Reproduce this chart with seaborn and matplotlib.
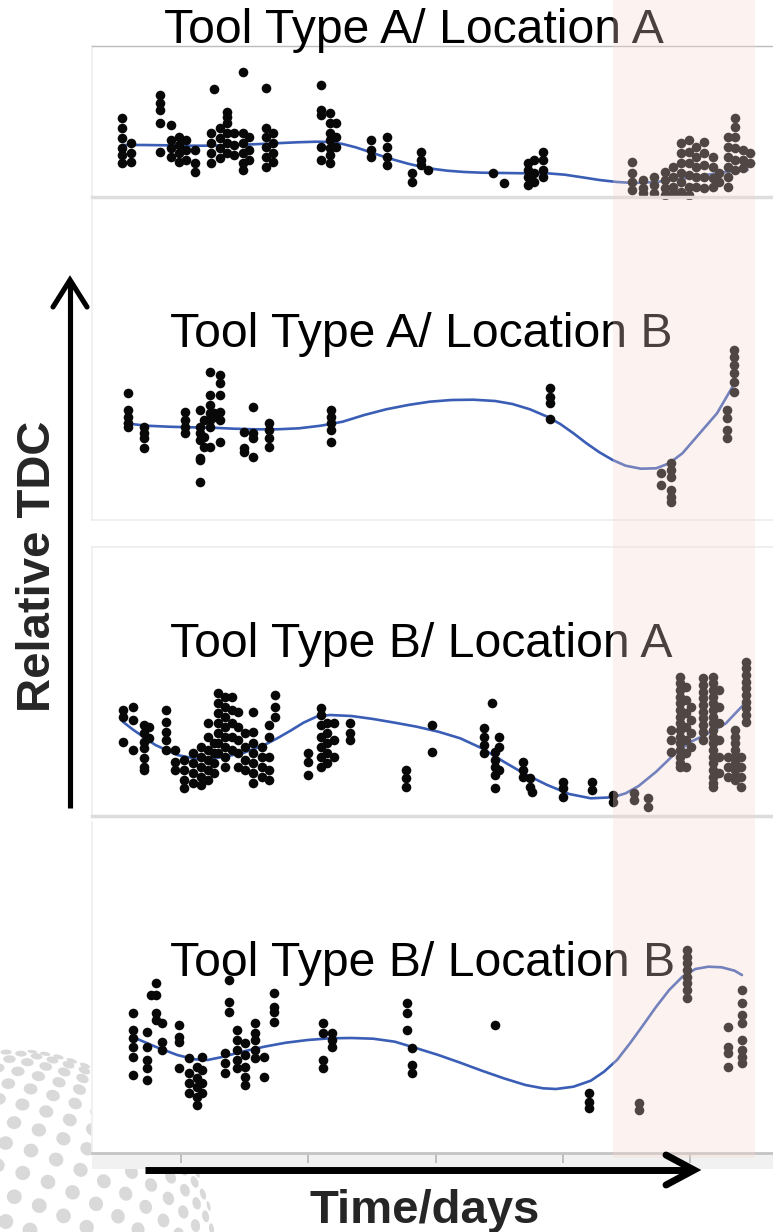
import numpy as np
import pandas as pd
import matplotlib
matplotlib.use("Agg")
import matplotlib.pyplot as plt
from matplotlib.lines import Line2D
from matplotlib.patches import Rectangle
from matplotlib.collections import EllipseCollection
import seaborn as sns

# ---------------- data (x = days, y = relative TDC, arbitrary units) ----------------
panel_titles = ["Tool Type A/ Location A", "Tool Type A/ Location B",
                "Tool Type B/ Location A", "Tool Type B/ Location B"]
x_ticks = [50, 100, 150, 200, 250]
window_days = (219.7, 275.5)

p1_points = [
    (26.6, [78.7, 68.7, 58.7, 48.7, 42.0, 33.7]), (30.5, [53.7, 43.7, 35.3]),
    (41.6, [102.0, 93.7, 87.0, 73.7, 45.3]), (45.9, [72.0, 57.0, 48.7, 40.3]),
    (49.3, [60.3, 52.0, 43.7, 35.3]), (51.9, [57.0, 47.0, 37.0]),
    (55.3, [47.0, 33.7, 25.3]), (63.0, [107.7]), (61.8, [63.7, 53.7, 43.7, 33.7]),
    (65.2, [68.7, 58.7, 48.7, 38.7]), (68.1, [85.3, 80.3, 73.7, 63.7, 53.7, 43.7]),
    (70.7, [63.7, 52.0, 42.0]), (74.5, [125.3, 63.7, 53.7, 43.7, 33.7, 27.0]),
    (76.7, [60.3, 47.0, 37.0]), (83.5, [108.7, 68.7, 60.3, 50.3, 40.3, 30.3]),
    (86.1, [63.7, 53.7, 43.7, 35.3]), (104.9, [112.0, 87.0, 82.0, 50.3, 37.0]),
    (108.4, [83.7, 73.7, 63.7, 57.0, 48.7, 42.0, 33.7]), (110.9, [73.7, 60.3, 50.3]),
    (124.6, [57.0, 47.0, 40.3]), (131.1, [59.7, 50.3, 40.3, 32.0]),
    (140.9, [23.7, 15.3]), (144.3, [45.3, 37.0, 32.0]), (146.9, [27.0]),
    (172.5, [23.7]), (176.8, [13.7]), (186.2, [33.7, 27.0, 20.3, 12.0]),
    (188.8, [37.0, 23.7, 15.3]), (192.2, [45.3, 37.0, 27.0, 20.3]),
    (227.3, [35.3, 23.7, 15.3, 7.0]), (231.6, [17.0, 8.7, 3.7]),
    (235.8, [20.3, 12.0, 3.7]), (240.1, [25.3, 17.0, 8.7, 2.0]),
    (243.5, [30.3, 20.3, 10.3, 3.7]), (246.6, [53.7, 43.7, 33.7, 23.7, 15.0, 5.3]),
    (249.5, [57.0, 45.3, 33.7, 22.0, 10.3, 2.0]), (252.4, [50.3, 40.3, 30.3, 20.3, 10.3]),
    (255.5, [55.3, 43.7, 32.0, 20.3, 8.7]), (258.9, [40.3, 30.3, 18.7, 10.3]),
    (261.5, [23.7, 15.0]), (264.9, [60.3, 50.3, 40.3, 30.3, 20.3, 10.3]),
    (267.5, [78.7, 70.3, 60.3, 48.7, 37.0, 27.0]), (270.9, [47.0, 37.0, 28.7]),
    (273.5, [43.7, 33.7]),
]
p1_fit_days = [27.1, 35.6, 44.2, 52.7, 61.3, 69.9, 78.4, 87.0, 95.5, 103.2,
               108.4, 113.5, 118.6, 123.8, 128.9, 134.0, 139.2, 144.3, 149.4, 154.6,
               161.4, 168.2, 176.8, 185.3, 193.9, 200.8, 207.6, 214.4, 221.3, 228.1,
               236.7, 245.2, 253.8, 262.4, 272.6]
p1_fit_tdc = [52.0, 52.0, 51.7, 51.3, 51.3, 51.7, 52.7, 53.7, 54.7, 55.3,
              55.0, 53.0, 49.7, 45.3, 41.0, 37.0, 33.3, 30.3, 28.0, 26.3,
              25.0, 24.3, 24.0, 23.7, 23.7, 22.3, 19.7, 17.0, 15.0, 14.0,
              15.0, 17.7, 21.0, 24.5, 27.0]

p2_points = [
    (29.3, [126.7, 110.0, 103.3, 96.7, 93.3]), (35.3, [93.3, 86.7, 81.7, 71.7]),
    (51.5, [108.3, 100.0, 93.3, 86.7]), (57.4, [110.0, 93.3, 86.7, 80.0, 61.7, 60.0, 38.3]),
    (59.1, [100.0, 83.3, 73.3]), (61.3, [148.3, 125.0, 115.0, 106.7, 100.0, 93.3, 73.3]),
    (65.2, [145.0, 136.7, 125.0, 108.3, 100.0, 78.3]), (63.0, [106.7, 103.3]),
    (74.6, [88.3, 71.7, 68.3]), (78.4, [113.3, 86.7, 81.7, 63.3]),
    (84.7, [96.7, 90.0, 81.7, 73.3]), (108.9, [110.0, 103.3, 96.7, 90.0, 78.3]),
    (194.8, [131.7, 123.3, 116.7, 100.7]), (238.7, [46.7, 35.0]),
    (242.7, [56.7, 50.0, 43.3, 30.0, 23.3, 18.3]), (264.4, [110.0, 101.7, 90.0, 81.7]),
    (267.1, [170.0, 163.3, 155.0, 146.7, 138.3, 128.3]),
]
p2_fit_days = [27.9, 36.5, 45.0, 53.6, 62.2, 70.7, 79.3, 87.8, 96.4, 104.9,
               113.5, 122.0, 130.6, 139.2, 147.7, 156.3, 164.8, 173.4, 180.2, 187.1,
               193.9, 199.0, 204.2, 209.3, 214.4, 219.6, 224.7, 230.7, 236.7, 241.8,
               247.0, 253.8, 260.6, 267.1]
p2_fit_tdc = [96.7, 94.3, 93.3, 92.7, 92.3, 91.3, 90.7, 90.7, 91.7, 94.3,
              98.3, 105.0, 110.7, 115.0, 118.3, 120.0, 120.3, 119.0, 116.0, 110.7,
              103.3, 96.0, 86.7, 76.7, 67.7, 60.0, 54.3, 51.3, 51.7, 56.7,
              66.7, 86.7, 106.7, 135.0]

p3_points = [
    (27.1, [106.0, 99.3, 74.3]), (31.3, [109.3, 96.0, 66.0]),
    (35.6, [91.0, 82.7, 74.3, 67.7, 57.7, 49.3, 46.0]), (37.3, [89.3, 77.7]),
    (44.2, [106.0, 94.3, 84.3, 76.0, 66.0]), (47.6, [66.0, 54.3, 46.0]),
    (51.0, [56.0, 46.0, 36.0, 27.7]), (54.5, [62.7, 52.7, 42.7, 32.7]),
    (57.9, [69.3, 59.3, 49.3, 39.3, 31.0]), (60.4, [92.7, 79.3, 66.0, 56.0, 46.0, 36.0]),
    (63.0, [72.7, 62.7, 52.7, 42.7]), (64.7, [122.7, 112.7, 102.7, 92.7, 82.7, 72.7, 62.7]),
    (67.3, [119.3, 109.3, 99.3, 89.3, 79.3, 69.3, 59.3, 49.3]),
    (69.9, [119.3, 106.0, 92.7, 79.3, 66.0]), (72.4, [104.3, 89.3, 76.0, 62.7, 49.3]),
    (75.0, [82.7, 69.3, 56.0, 46.0]), (78.4, [104.3, 84.3, 72.7, 62.7, 52.7, 42.7, 32.7]),
    (81.8, [69.3, 59.3, 49.3, 39.3]), (84.4, [91.0, 79.3, 59.3, 46.0, 36.0]),
    (87.0, [121.0, 109.3, 99.3]), (99.8, [62.7, 54.3, 41.0]),
    (104.9, [107.7, 101.0, 91.0, 79.3, 69.3, 59.3, 49.3]),
    (107.5, [92.7, 82.7, 72.7, 62.7, 52.7]), (110.1, [92.7, 76.0, 59.3]),
    (116.4, [92.7, 82.7, 76.0]), (138.3, [46.0, 37.7, 29.3]), (148.6, [91.0, 64.3]),
    (172.0, [112.7]), (169.1, [87.7, 79.3, 71.0, 62.7]),
    (173.4, [64.3, 56.0, 49.3, 41.0, 27.7]), (175.1, [79.3, 69.3, 46.0]),
    (184.5, [54.3, 46.0, 39.3]), (187.1, [37.7, 29.3]), (187.9, [24.3]),
    (199.9, [34.3, 27.7, 19.3]), (211.4, [34.3, 26.0]), (219.6, [21.0, 14.3]),
    (228.1, [22.7, 16.0]), (233.3, [17.7, 9.3]), (242.7, [86.0, 76.0, 64.3]),
    (246.1, [139.3, 132.7, 126.0, 119.3, 112.7, 106.0, 99.3, 92.7, 86.0, 79.3, 72.7,
             66.0, 59.3, 52.7, 49.3]),
    (248.3, [129.3, 116.0, 102.7, 89.3, 76.0, 62.7, 49.3]),
    (250.4, [109.3, 96.0, 82.7, 69.3]),
    (255.2, [137.7, 131.0, 124.3, 117.7, 111.0, 104.3, 97.7, 91.0, 84.3, 76.0]),
    (258.9, [139.3, 132.7, 126.0, 119.3, 112.7, 106.0, 99.3, 92.7, 86.0, 79.3, 72.7,
             66.0, 59.3, 52.7, 46.0, 39.3, 32.7, 29.3]),
    (261.5, [126.0, 109.3, 92.7, 76.0, 59.3, 42.7]), (264.9, [59.3, 49.3, 39.3]),
    (267.8, [86.0, 79.3, 72.7, 66.0, 59.3, 52.7, 46.0, 39.3, 36.0]),
    (270.0, [59.3, 49.3, 39.3, 29.3]),
    (271.8, [154.3, 147.7, 141.0, 134.3, 127.7, 121.0, 114.3, 107.7, 101.0, 94.3]),
]
p3_fit_days = [27.1, 31.3, 39.9, 48.5, 57.0, 65.6, 74.1, 82.7, 87.8, 93.0,
               98.1, 103.2, 108.4, 116.9, 125.5, 134.0, 142.6, 151.1, 159.7, 168.2,
               176.8, 185.3, 193.9, 202.5, 211.0, 219.6, 224.7, 229.8, 236.7, 243.5,
               250.4, 257.2, 264.1, 270.9]
p3_fit_tdc = [94.3, 86.0, 71.0, 61.0, 56.7, 58.7, 62.7, 71.0, 77.7, 85.3,
              93.3, 99.3, 101.0, 100.0, 97.0, 93.3, 89.3, 84.3, 77.7, 67.7,
              54.3, 41.7, 31.0, 22.0, 17.7, 18.7, 22.7, 30.0, 44.3, 61.0,
              74.3, 82.7, 92.7, 111.0]

p4_points = [
    (31.3, [139.7, 123.0, 114.7, 106.3, 96.3, 78.0]), (36.5, [121.3, 106.3, 93.0, 84.7, 73.0]),
    (38.2, [158.0]), (40.2, [169.7, 158.0, 139.7, 133.0]), (42.5, [129.7, 111.3, 103.0]),
    (49.3, [128.0, 116.3, 111.3, 84.7]), (53.3, [94.7, 79.7, 69.7, 59.7]),
    (56.2, [86.3, 74.7, 66.3, 56.3, 48.0]), (58.4, [96.3, 83.0, 69.7, 59.7]),
    (67.3, [99.7, 89.7, 79.7]), (69.0, [173.0, 151.3, 141.3]),
    (72.1, [123.0, 113.0, 103.0, 93.0, 84.7]), (75.0, [109.7, 98.0, 86.3, 76.0, 67.7]),
    (78.9, [129.7, 119.7, 113.0, 103.0, 94.7]), (82.7, [96.3, 76.0]),
    (86.5, [159.7, 146.3, 141.3, 131.3]), (105.8, [129.7, 119.7, 93.0, 84.7]),
    (109.2, [119.7, 113.0, 106.3]), (138.8, [149.7, 139.7, 123.0]),
    (140.9, [104.7, 88.0, 79.7]), (173.4, [128.0]), (210.2, [59.7, 51.3, 44.7]),
    (229.8, [49.7, 43.0]),
    (249.0, [203.0, 196.3, 189.7, 183.0, 176.3, 169.7, 163.0, 154.7]),
    (264.9, [126.3, 106.3, 99.7, 86.3]),
    (270.4, [163.0, 149.7, 138.0, 129.7, 113.0, 103.0, 96.3, 89.7]),
]
p4_fit_days = [32.2, 39.9, 48.5, 55.3, 60.4, 65.6, 74.1, 82.7, 91.2, 99.8,
               108.4, 116.9, 125.5, 134.0, 142.6, 151.1, 159.7, 168.2, 176.8, 185.3,
               192.2, 197.3, 204.2, 211.0, 216.2, 221.3, 226.4, 231.6, 236.7, 241.8,
               247.0, 252.1, 257.2, 262.4, 267.5, 270.4]
p4_fit_tdc = [114.7, 106.3, 98.0, 93.7, 93.0, 95.7, 101.3, 106.3, 110.3, 113.0,
              114.7, 115.0, 114.3, 111.3, 104.7, 98.0, 90.3, 82.3, 74.7, 68.0,
              64.7, 64.0, 66.3, 72.3, 81.3, 93.0, 109.7, 128.0, 146.3, 163.0,
              176.3, 184.0, 186.3, 185.7, 182.3, 178.0]

panel_points = [p1_points, p2_points, p3_points, p4_points]
panel_fits = [(p1_fit_days, p1_fit_tdc), (p2_fit_days, p2_fit_tdc),
              (p3_fit_days, p3_fit_tdc), (p4_fit_days, p4_fit_tdc)]

# ---------------- style / layout ----------------
sns.set_theme(style="white")
plt.rcParams['font.family'] = ['Liberation Sans', 'DejaVu Sans']

W, H = 773, 1232
fig = plt.figure(figsize=(W / 100, H / 100), dpi=100)
fig.patch.set_facecolor("white")

XLIM = (15.0, 282.6)
bounds = [(46, 197), (200, 520), (547, 816), (822, 1153)]  # panel pixel (top, bottom)
LEFT = 92

# background decoration: halftone globe in the lower-left corner
bg = fig.add_axes([0, 0, 1, 1], zorder=-5)
bg.set_xlim(0, W); bg.set_ylim(H, 0); bg.axis("off")
lat = np.radians(np.arange(-84, 90, 7.5))
lon = np.radians(np.arange(-180, 180, 7.5) + 3)
LA, LO = np.meshgrid(lat, lon)
Xs = np.cos(LA) * np.sin(LO)
Ys = np.sin(LA)
Zs = np.cos(LA) * np.cos(LO)
tilt = np.radians(-25)
Y2 = Ys * np.cos(tilt) - Zs * np.sin(tilt)
Z2 = Ys * np.sin(tilt) + Zs * np.cos(tilt)
rot = np.radians(-20)
X3 = Xs * np.cos(rot) - Y2 * np.sin(rot)
Y3 = Xs * np.sin(rot) + Y2 * np.cos(rot)
vis = Z2 > 0.05
gcx, gcy, gR = 10, 1255, 205
gx = gcx + gR * X3[vis]
gy = gcy - gR * Y3[vis]
gz = Z2[vis]
phi = np.degrees(np.arctan2(gy - gcy, gx - gcx))
dot = 15.0
ec = EllipseCollection(widths=dot * gz ** 0.15, heights=dot * gz ** 0.55,
                       angles=phi + 90, units="xy", offsets=np.column_stack([gx, gy]),
                       offset_transform=bg.transData, facecolors="#d9d9d9",
                       edgecolors="none", zorder=1)
bg.add_collection(ec)
bg.add_patch(Rectangle((LEFT, 1153), W - LEFT, 16, facecolor="#f1f1f1",
                       edgecolor="none", zorder=2))

axes = []
for i, (top, bot) in enumerate(bounds):
    ax = fig.add_axes([LEFT / W, 1 - bot / H, (W - LEFT) / W, (bot - top) / H])
    ax.set_facecolor("white")
    pts = panel_points[i]
    df = pd.DataFrame({"day": [d for d, vs in pts for _ in vs],
                       "tdc": [v for _, vs in pts for v in vs]})
    fd, fv = panel_fits[i]
    sns.lineplot(x=fd, y=fv, ax=ax, color="#3a5db5", linewidth=1.9, zorder=1)
    sns.scatterplot(data=df, x="day", y="tdc", ax=ax, color="#080808", s=48,
                    linewidth=0, legend=False, zorder=2, clip_on=False)
    ax.set_xlim(*XLIM)
    ax.set_ylim(0, bot - top)
    ax.set_xlabel(""); ax.set_ylabel("")
    ax.set_yticks([])
    ax.spines["right"].set_visible(False)
    ax.spines["left"].set_color("#f0f0f0")
    axes.append(ax)

ax1, ax2, ax3, ax4 = axes
ax1.spines["top"].set_color("#bcbcbc"); ax1.spines["top"].set_linewidth(1.0)
ax1.spines["bottom"].set_color("#dedede"); ax1.spines["bottom"].set_linewidth(2.5)
ax2.spines["top"].set_visible(False)
ax2.spines["bottom"].set_color("#ececec"); ax2.spines["bottom"].set_linewidth(1.2)
ax3.spines["top"].set_color("#ececec"); ax3.spines["top"].set_linewidth(1.2)
ax3.spines["bottom"].set_color("#dcdcdc"); ax3.spines["bottom"].set_linewidth(2.5)
ax4.spines["top"].set_visible(False)
ax4.spines["bottom"].set_color("#c4c4c4"); ax4.spines["bottom"].set_linewidth(2.0)
for ax in (ax1, ax2, ax3):
    ax.set_xticks([])
ax4.set_xticks(x_ticks)
ax4.set_xticklabels([])
ax4.tick_params(axis="x", direction="out", length=7, width=1.2, color="#b4b4b4",
                bottom=True)

# overlay: titles, shaded window, arrows, labels
ov = fig.add_axes([0, 0, 1, 1], zorder=10)
ov.set_xlim(0, W); ov.set_ylim(H, 0); ov.axis("off")
ov.patch.set_alpha(0)

title_pos = [(164, 43), (170, 347), (170, 657), (170, 976)]
for t, (tx, ty) in zip(panel_titles, title_pos):
    ov.text(tx, ty, t, fontsize=34.7, ha="left", va="baseline", color="black",
            zorder=3)

x0 = ax1.transData.transform((window_days[0], 0))[0]
x1 = ax1.transData.transform((window_days[1], 0))[0]
ov.add_patch(Rectangle((x0, 0), x1 - x0, 1158,
                       facecolor=(248 / 255, 215 / 255, 205 / 255),
                       alpha=0.3, edgecolor="none", zorder=4))

# Y arrow
ov.add_line(Line2D([70, 70], [808, 282], color="black", lw=3.7, solid_capstyle="butt", zorder=5))
ov.add_line(Line2D([53, 70, 87], [307, 280, 307], color="black", lw=3.7,
                   solid_joinstyle="miter", solid_capstyle="round", zorder=5))
# X arrow
ov.add_line(Line2D([145, 690], [1170, 1170], color="black", lw=5, solid_capstyle="butt", zorder=5))
ov.add_line(Line2D([666, 694, 666], [1155, 1170, 1185], color="black", lw=5,
                   solid_joinstyle="miter", solid_capstyle="round", zorder=5))

ov.text(50, 566, "Relative TDC", fontsize=34, fontweight="bold", rotation=90,
        rotation_mode="anchor", ha="center", va="baseline", zorder=5)
ov.text(425, 1223, "Time/days", fontsize=34, fontweight="bold", ha="center",
        va="baseline", zorder=5)

fig.savefig("out.png", dpi=100, facecolor="white")
